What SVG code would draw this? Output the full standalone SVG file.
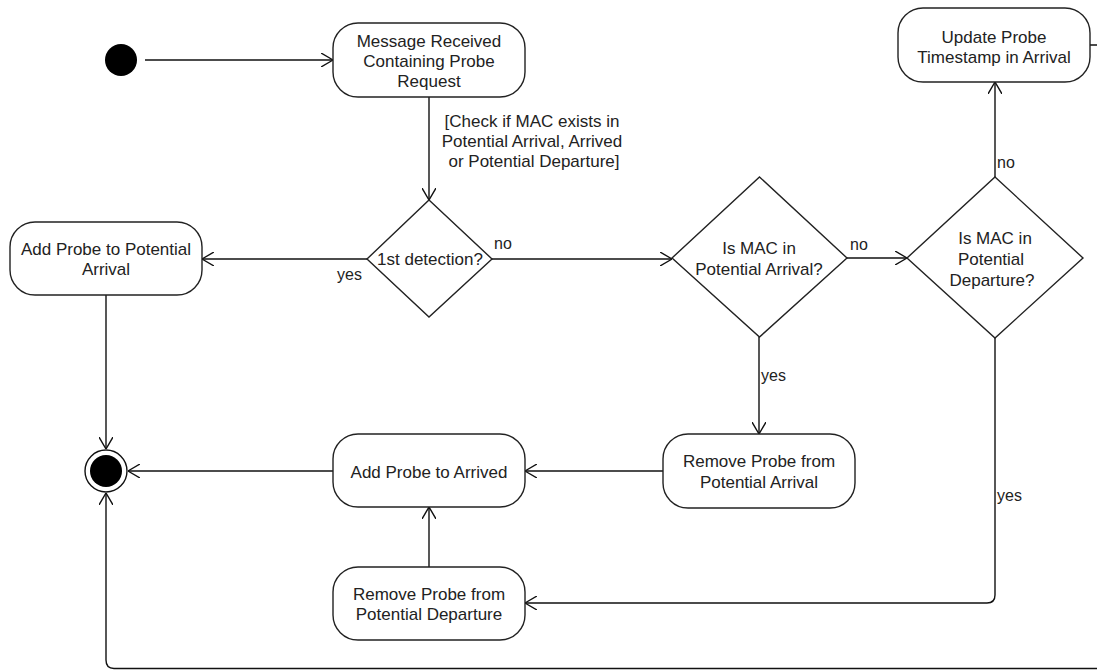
<svg xmlns="http://www.w3.org/2000/svg" width="1097" height="670" viewBox="0 0 1097 670">
  <style>
    .node { fill: #ffffff; stroke: #222222; stroke-width: 1.4; }
    .txt { font-family: "Liberation Sans", Arial, sans-serif; font-size: 17px; fill: #222222; text-anchor: middle; }
    .lbl { font-family: "Liberation Sans", Arial, sans-serif; font-size: 16px; fill: #222222; }
    .edge { fill: none; stroke: #111111; stroke-width: 1.4; }
  </style>
  <defs>
    <marker id="open-arrow" markerUnits="userSpaceOnUse" viewBox="0 0 12 14" refX="12" refY="7" markerWidth="12" markerHeight="14" orient="auto">
      <path d="M0,0 L12,7 L0,14" fill="none" stroke="#111111" stroke-width="1.4"/>
    </marker>
  </defs>
  <rect width="1097" height="670" fill="#ffffff"/>

  <!-- connectors -->
  <g id="connectors">
    <path class="edge" d="M145 60 H333" marker-end="url(#open-arrow)"/>
    <path class="edge" d="M429 97 V200" marker-end="url(#open-arrow)"/>
    <path class="edge" d="M367 259 H202" marker-end="url(#open-arrow)"/>
    <path class="edge" d="M492 259 H672" marker-end="url(#open-arrow)"/>
    <path class="edge" d="M847 258 H907" marker-end="url(#open-arrow)"/>
    <path class="edge" d="M995 177 V82" marker-end="url(#open-arrow)"/>
    <path class="edge" d="M759 337 V434" marker-end="url(#open-arrow)"/>
    <path class="edge" d="M663 471 H525" marker-end="url(#open-arrow)"/>
    <path class="edge" d="M333 471 H128" marker-end="url(#open-arrow)"/>
    <path class="edge" d="M106 295 V449" marker-end="url(#open-arrow)"/>
    <path class="edge" d="M429 567 V507" marker-end="url(#open-arrow)"/>
    <path class="edge" d="M995 338 V595 Q995 603 987 603 H525" marker-end="url(#open-arrow)"/>
    <path class="edge" d="M1090 45 H1110 V668.5 H114 Q106 668.5 106 660 V493" marker-end="url(#open-arrow)"/>

    <text class="txt" x="532" y="127">[Check if MAC exists in</text>
    <text class="txt" x="532" y="147">Potential Arrival, Arrived</text>
    <text class="txt" x="534" y="167">or Potential Departure]</text>
    <text class="lbl" x="337" y="280">yes</text>
    <text class="lbl" x="494" y="249">no</text>
    <text class="lbl" x="850" y="250">no</text>
    <text class="lbl" x="997" y="168">no</text>
    <text class="lbl" x="761" y="381">yes</text>
    <text class="lbl" x="997" y="501">yes</text>
  </g>

  <!-- start -->
  <g id="start">
    <circle cx="121" cy="60" r="16" fill="#000000"/>
  </g>

  <g id="message-received">
    <rect class="node" x="333" y="23" width="192" height="74" rx="25" ry="25"/>
    <text class="txt" x="429" y="47">Message Received</text>
    <text class="txt" x="429" y="67">Containing Probe</text>
    <text class="txt" x="429" y="87">Request</text>
  </g>

  <g id="first-detection">
    <polygon class="node" points="429,200 492,259 429,317 367,259"/>
    <text class="txt" x="430" y="265">1st detection?</text>
  </g>

  <g id="add-potential-arrival">
    <rect class="node" x="10" y="222" width="192" height="73" rx="25" ry="25"/>
    <text class="txt" x="106" y="255">Add Probe to Potential</text>
    <text class="txt" x="106" y="275">Arrival</text>
  </g>

  <g id="in-potential-arrival">
    <polygon class="node" points="759.5,177 847,258 759.5,337 672,258"/>
    <text class="txt" x="759" y="254">Is MAC in</text>
    <text class="txt" x="759" y="275">Potential Arrival?</text>
  </g>

  <g id="in-potential-departure">
    <polygon class="node" points="995,177 1083,258 995,338 907,258"/>
    <text class="txt" x="995" y="244">Is MAC in</text>
    <text class="txt" x="991" y="265">Potential</text>
    <text class="txt" x="992" y="286">Departure?</text>
  </g>

  <g id="update-timestamp">
    <rect class="node" x="898" y="8" width="192" height="74" rx="25" ry="25"/>
    <text class="txt" x="994" y="43">Update Probe</text>
    <text class="txt" x="994" y="63">Timestamp in Arrival</text>
  </g>

  <g id="remove-potential-arrival">
    <rect class="node" x="663" y="434" width="192" height="74" rx="25" ry="25"/>
    <text class="txt" x="759" y="467">Remove Probe from</text>
    <text class="txt" x="759" y="488">Potential Arrival</text>
  </g>

  <g id="add-arrived">
    <rect class="node" x="333" y="434" width="192" height="73" rx="25" ry="25"/>
    <text class="txt" x="429" y="478">Add Probe to Arrived</text>
  </g>

  <g id="remove-potential-departure">
    <rect class="node" x="333" y="567" width="192" height="73" rx="25" ry="25"/>
    <text class="txt" x="429" y="600">Remove Probe from</text>
    <text class="txt" x="429" y="620">Potential Departure</text>
  </g>

  <g id="end">
    <circle cx="106" cy="471" r="21" fill="#ffffff" stroke="#111111" stroke-width="1.4"/>
    <circle cx="106" cy="471" r="16" fill="#000000"/>
  </g>
</svg>
